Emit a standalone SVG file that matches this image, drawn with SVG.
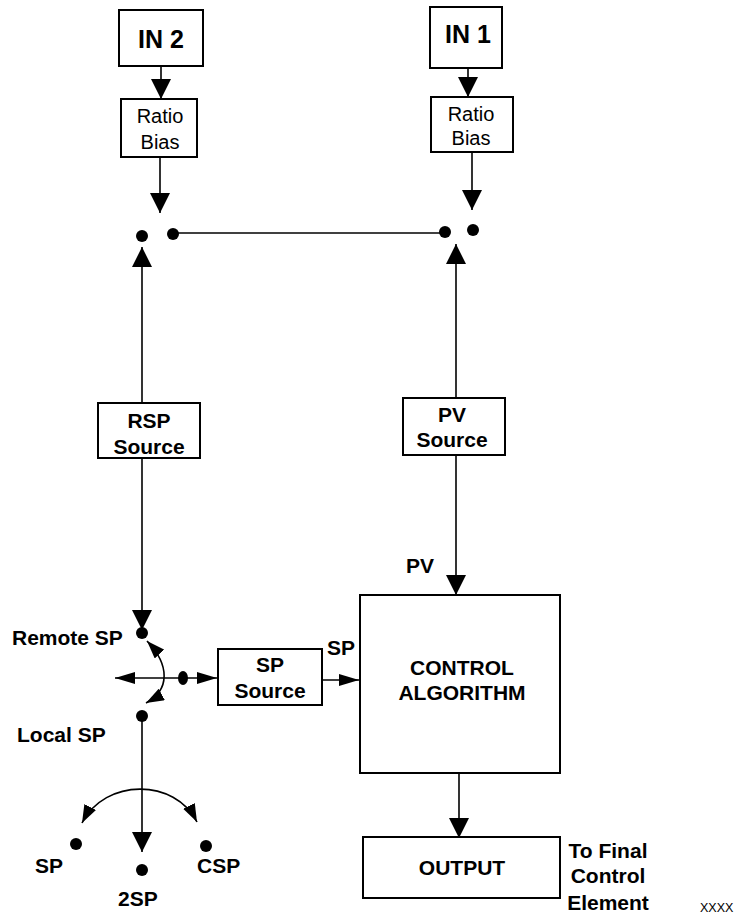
<svg xmlns="http://www.w3.org/2000/svg" width="736" height="924" viewBox="0 0 736 924">
<style>
.box{fill:#fff;stroke:#000;stroke-width:2}
.ln{fill:none;stroke:#000;stroke-width:1.6}
.b{font-family:"Liberation Sans",Arial,sans-serif;font-weight:bold;font-size:21px;fill:#000}
.r{font-family:"Liberation Sans",Arial,sans-serif;font-size:20px;fill:#000}
.c{text-anchor:middle}
.dot{fill:#000}
</style>
<defs>
<marker id="ah" markerUnits="userSpaceOnUse" viewBox="0 0 20 20" markerWidth="20" markerHeight="20" refX="20" refY="10" orient="auto-start-reverse">
<path d="M0,0 L20,10 L0,20 z" fill="#000"/>
</marker>
<marker id="ahn" markerUnits="userSpaceOnUse" viewBox="0 0 20 12" markerWidth="20" markerHeight="12" refX="20" refY="6" orient="auto-start-reverse">
<path d="M0,0 L20,6 L0,12 z" fill="#000"/>
</marker>
<marker id="ahs" markerUnits="userSpaceOnUse" viewBox="0 0 18 13" markerWidth="18" markerHeight="13" refX="18" refY="6.5" orient="auto-start-reverse">
<path d="M0,0 L18,6.5 L0,13 z" fill="#000"/>
</marker>
</defs>

<g id="connectors">
<line class="ln" x1="161" y1="66" x2="161" y2="99" marker-end="url(#ah)"/>
<line class="ln" x1="160" y1="157" x2="160" y2="213" marker-end="url(#ah)"/>
<line class="ln" x1="468" y1="68" x2="468" y2="97" marker-end="url(#ah)"/>
<line class="ln" x1="472" y1="152" x2="472" y2="210" marker-end="url(#ah)"/>
<line class="ln" x1="173" y1="233" x2="445" y2="233"/>
<line class="ln" x1="142" y1="403" x2="142" y2="247" marker-end="url(#ah)"/>
<line class="ln" x1="456" y1="398" x2="456" y2="244" marker-end="url(#ah)"/>
<line class="ln" x1="456" y1="455" x2="456" y2="595" marker-end="url(#ah)"/>
<line class="ln" x1="142" y1="458" x2="142" y2="630" marker-end="url(#ah)"/>
<line class="ln" x1="115" y1="678" x2="217" y2="678" marker-start="url(#ahn)" marker-end="url(#ahn)"/>
<path class="ln" d="M147,641 C170,665 170,690 146,703" marker-start="url(#ahs)" marker-end="url(#ahs)"/>
<line class="ln" x1="322" y1="680" x2="359" y2="680" marker-end="url(#ahn)"/>
<line class="ln" x1="142" y1="716" x2="142" y2="852" marker-end="url(#ah)"/>
<path class="ln" d="M82,823 C105,778 175,778 197,822" marker-start="url(#ahs)" marker-end="url(#ahs)"/>
<line class="ln" x1="459" y1="773" x2="459" y2="838" marker-end="url(#ah)"/>
</g>

<g id="dots">
<circle class="dot" cx="142" cy="236" r="6"/>
<circle class="dot" cx="173" cy="234" r="6"/>
<circle class="dot" cx="445" cy="232" r="6"/>
<circle class="dot" cx="473" cy="230" r="6"/>
<circle class="dot" cx="142" cy="633" r="6"/>
<ellipse class="dot" cx="183" cy="678" rx="5" ry="7"/>
<circle class="dot" cx="142" cy="716" r="6"/>
<circle class="dot" cx="76" cy="844" r="6"/>
<circle class="dot" cx="142" cy="870" r="6"/>
<circle class="dot" cx="206" cy="846" r="6"/>
</g>

<g id="in2">
<rect class="box" x="119" y="10" width="84" height="56"/>
<text class="b c" x="161" y="48" style="font-size:25px">IN 2</text>
</g>
<g id="in1">
<rect class="box" x="430" y="7" width="72" height="61"/>
<text class="b c" x="468" y="43" style="font-size:25px">IN 1</text>
</g>
<g id="ratio2">
<rect class="box" x="121" y="99" width="76" height="58"/>
<text class="r c" x="160" y="123">Ratio</text>
<text class="r c" x="160" y="149">Bias</text>
</g>
<g id="ratio1">
<rect class="box" x="431" y="97" width="82" height="55"/>
<text class="r c" x="471" y="121">Ratio</text>
<text class="r c" x="471" y="145">Bias</text>
</g>
<g id="rsp">
<rect class="box" x="98" y="403" width="102" height="55"/>
<text class="b c" x="149" y="428">RSP</text>
<text class="b c" x="149" y="454">Source</text>
</g>
<g id="pv">
<rect class="box" x="403" y="398" width="102" height="57"/>
<text class="b c" x="452" y="422">PV</text>
<text class="b c" x="452" y="447">Source</text>
</g>
<g id="control">
<rect class="box" x="360" y="595" width="200" height="178"/>
<text class="b c" x="462" y="675">CONTROL</text>
<text class="b c" x="462" y="700">ALGORITHM</text>
</g>
<g id="spsource">
<rect class="box" x="218" y="649" width="104" height="56"/>
<text class="b c" x="270" y="672">SP</text>
<text class="b c" x="270" y="698">Source</text>
</g>
<g id="output">
<rect class="box" x="363" y="837" width="197" height="61"/>
<text class="b c" x="462" y="875">OUTPUT</text>
</g>

<g id="labels">
<text class="b" x="406" y="573">PV</text>
<text class="b" x="327" y="655">SP</text>
<text class="b" x="12" y="645">Remote SP</text>
<text class="b" x="17" y="742">Local SP</text>
<text class="b" x="35" y="873">SP</text>
<text class="b" x="118" y="906">2SP</text>
<text class="b" x="197" y="873">CSP</text>
<text class="b c" x="608" y="858">To Final</text>
<text class="b c" x="608" y="883">Control</text>
<text class="b c" x="608" y="910">Element</text>
<text class="r" x="700" y="912" style="font-size:12.5px">XXXX</text>
</g>
</svg>
